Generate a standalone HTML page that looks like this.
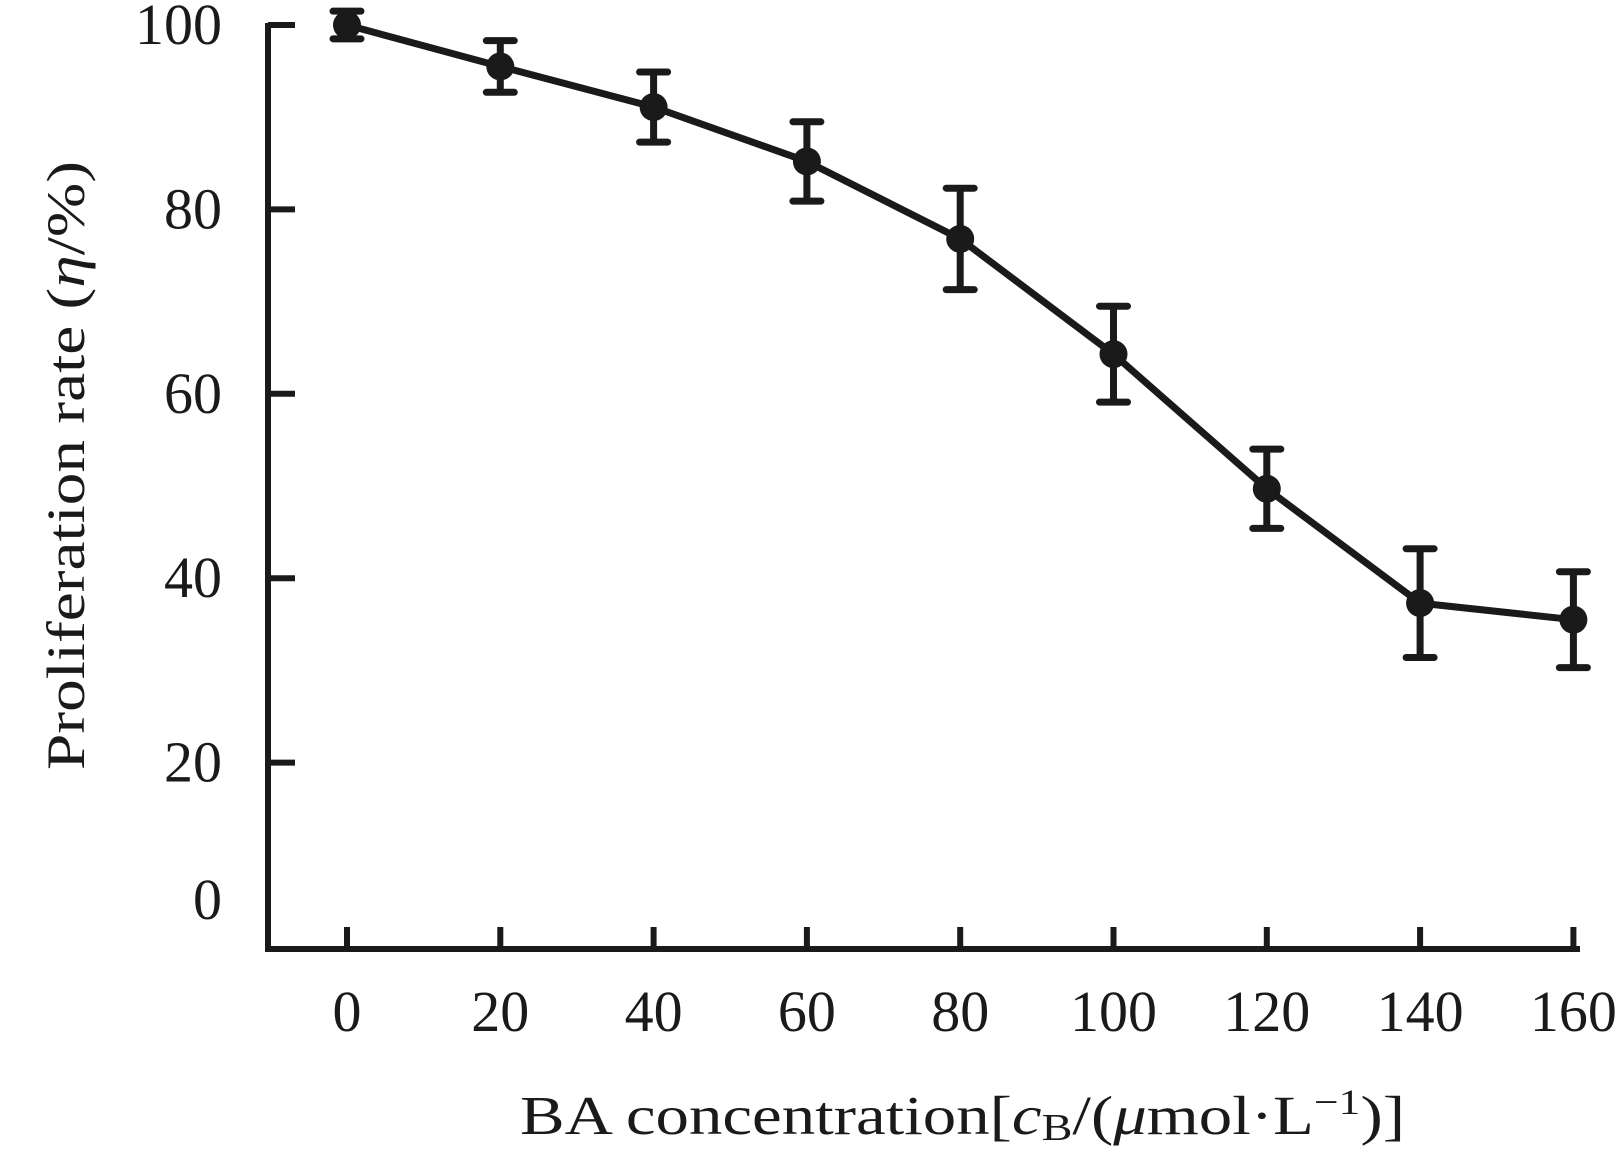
<!DOCTYPE html>
<html><head><meta charset="utf-8"><style>
html,body{margin:0;padding:0;background:#fff;}
svg{display:block;}
text{font-family:"Liberation Serif",serif;fill:#1a1a1a;}
</style></head><body>
<svg id="chart" width="1623" height="1170" viewBox="0 0 1623 1170" xmlns="http://www.w3.org/2000/svg">
<g id="axes"></g>
<g id="series"></g>
<text x="520" y="1134" font-size="55" textLength="885" lengthAdjust="spacingAndGlyphs">BA concentration[<tspan font-style="italic">c</tspan><tspan font-size="38" dy="6">B</tspan><tspan dy="-6">/(</tspan><tspan font-style="italic">μ</tspan>mol·L<tspan font-size="36" dy="-20">−1</tspan><tspan dy="20">)]</tspan></text>
<text transform="translate(84,770) rotate(-90)" font-size="54" textLength="609" lengthAdjust="spacingAndGlyphs">Proliferation rate (<tspan font-style="italic">η</tspan>/%)</text>
</svg>
<script>
const categories = [0,20,40,60,80,100,120,140,160];
const values = [100,95.5,91.1,85.2,76.8,64.3,49.7,37.3,35.5];
const errors = [1.5,2.8,3.8,4.3,5.5,5.2,4.3,5.9,5.2];
const yTicks = [0,20,40,60,80,100];
const xTickLabels = ["0","20","40","60","80","100","120","140","160"];

const NS = "http://www.w3.org/2000/svg";
const x0 = 347, xStep = 153.3;
function xScale(i){ return x0 + i*xStep; }
function yScale(v){ return 947 - v*9.22; }
function mk(tag, attrs, parent){
  const e = document.createElementNS(NS, tag);
  for (const k in attrs) e.setAttribute(k, attrs[k]);
  parent.appendChild(e); return e;
}
const axes = document.getElementById('axes');
const series = document.getElementById('series');
const st = {stroke:"#1a1a1a","stroke-width":6,fill:"none"};

let ax = mk('path', Object.assign({d:"M268,23 V949 H1580"}, st), axes);



yTicks.forEach(v => {
  const y = yScale(v);
  if (v > 0) {
    const t = mk('line', Object.assign({x1:268,x2:295,y1:y,y2:y}, st), axes);
    
    
  }
  const lbl = mk('text', {x:222, y:(v===0? y-28 : y+19), "font-size":58, "text-anchor":"end"}, axes);
  lbl.textContent = String(v);
  
  
});

categories.forEach((c, i) => {
  const x = xScale(i);
  const t = mk('line', Object.assign({x1:x,x2:x,y1:949,y2:927}, st), axes);
  
  
  const lbl = mk('text', {x:x, y:1031, "font-size":58, "text-anchor":"middle"}, axes);
  lbl.textContent = xTickLabels[i];
  
  
});

const pts = values.map((v, i) => xScale(i) + "," + yScale(v)).join(" ");
const line = mk('polyline', {points:pts, stroke:"#1a1a1a", "stroke-width":7, fill:"none", "stroke-linejoin":"round"}, series);



values.forEach((v, i) => {
  const x = xScale(i), yt = yScale(v + errors[i]), yb = yScale(v - errors[i]);
  const eb = mk('path', {d:`M${x},${yt} V${yb} M${x-14},${yt} H${x+14} M${x-14},${yb} H${x+14}`, stroke:"#1a1a1a", "stroke-width":7, fill:"none", "stroke-linecap":"round"}, series);
  
  
  const p = mk('circle', {cx:x, cy:yScale(v), r:14, fill:"#1a1a1a"}, series);
  
  
});
</script>
</body></html>
